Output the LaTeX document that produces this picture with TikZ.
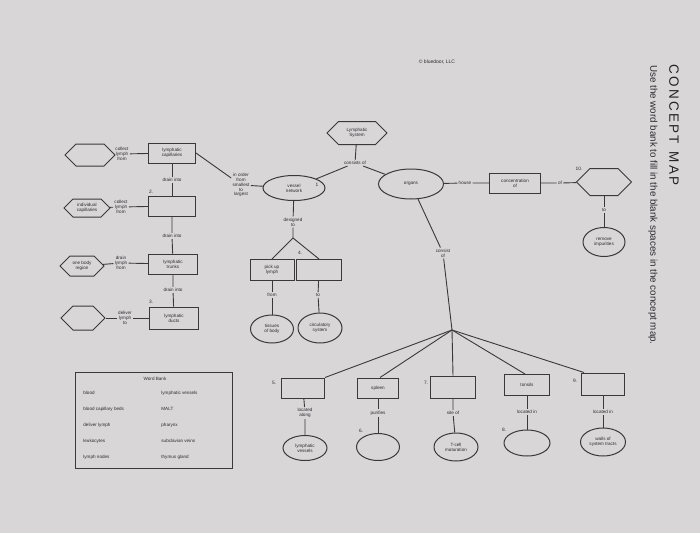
\documentclass[tikz,border=0pt]{standalone}
\usepackage{fontspec}
\setmainfont{Liberation Sans}
\usetikzlibrary{shapes.geometric,shapes.symbols}
\definecolor{paper}{RGB}{216,214,215}
\definecolor{ink}{RGB}{58,56,58}
\definecolor{txt}{RGB}{45,43,45}
\tikzset{
  tx/.style={font=\fontsize{4.6}{4.9}\selectfont, text=txt, align=center, inner sep=1.2pt},
  boxn/.style={tx, draw=ink, line width=1pt, minimum width=47pt, minimum height=20pt, inner sep=0pt},
  oval/.style={tx, ellipse, draw=ink, line width=1pt, minimum width=44pt, minimum height=27pt, inner sep=0pt},
  hexa/.style={tx, signal, signal to=west and east, draw=ink, line width=1pt, minimum width=48pt, minimum height=22pt, inner sep=0pt},
  lbl/.style={tx},
  num/.style={tx, font=\fontsize{4.8}{5}\selectfont},
  conn/.style={draw=ink, line width=0.9pt}
}
\begin{document}
\begin{tikzpicture}[x=1pt,y=-1pt]
\fill[paper] (0,0) rectangle (700,533);
\useasboundingbox (0,0) rectangle (700,533);

% header
\node[tx, font=\fontsize{5}{6}\selectfont] (copy) at (437,62) {\textcopyright\ bluedoor, LLC};
\node[text=txt!80!black, font=\fontsize{13.5}{14}\selectfont, rotate=-90, inner sep=0] (title) at (674,125) {C\,O\,N\,C\,E\,P\,T\ \ M\,A\,P};
\node[text=txt, font=\fontsize{9.8}{10}\selectfont, rotate=-90, inner sep=0] (sub) at (653,205) {Use the word bank to fill in the blank spaces in the concept map.};

% left column
\node[hexa, minimum width=50pt] (h1) at (90,155) {};
\node[lbl] (l1) at (122,154) {collect\\lymph\\from};
\node[boxn] (cap) at (172,153) {lymphatic\\capillaries};
\node[lbl] (d1) at (172,180) {drain into};
\node[num] (n2) at (151,192) {2.};
\node[boxn] (b2) at (172,206) {};
\node[hexa, minimum width=46pt, minimum height=18pt] (h2) at (87,208) {individual\\capillaries};
\node[lbl] (l2) at (121,207) {collect\\lymph\\from};
\node[lbl] (d2) at (172,236) {drain into};
\node[boxn, minimum width=49pt] (trunk) at (173,264) {lymphatic\\trunks};
\node[hexa, minimum width=44pt, minimum height=20pt] (h3) at (82,266) {one body\\region};
\node[lbl] (l3) at (121,263) {drain\\lymph\\from};
\node[lbl] (d3) at (173,290) {drain into};
\node[num] (n3) at (151,302) {3.};
\node[boxn, minimum width=49pt, minimum height=22pt] (duct) at (174,318) {lymphatic\\ducts};
\node[hexa, minimum width=44pt, minimum height=24pt] (h4) at (83,318) {};
\node[lbl] (l4) at (125,318) {deliver\\lymph\\to};

\draw[conn] (h1) -- (l1) -- (cap);
\draw[conn] (cap) -- (d1) -- (b2);
\draw[conn] (h2) -- (l2) -- (b2);
\draw[conn] (b2) -- (d2) -- (trunk);
\draw[conn] (h3) -- (l3) -- (trunk);
\draw[conn] (trunk) -- (d3) -- (duct);
\draw[conn] (h4) -- (l4) -- (duct);

% top centre
\node[hexa, minimum width=60pt, minimum height=23pt] (sys) at (357,133) {Lymphatic\\System};
\node[lbl] (cons) at (355,163) {consists of};
\node[oval, minimum width=62pt, minimum height=25pt] (vessel) at (294,188) {vessel\\network};
\node[num] (n1) at (317,185) {1};
\node[lbl] (order) at (241,185) {in order\\from\\smallest\\to\\largest};
\node[oval, minimum width=65pt, minimum height=30pt] (org) at (411,184) {organs};
\node[lbl] (house) at (465,183) {house};
\node[boxn, minimum width=51pt] (conc) at (515,183) {concentration\\of};
\node[lbl] (of) at (560,183) {of};
\node[hexa, minimum width=55pt, minimum height=27pt] (h10) at (604,182) {};
\node[num] (n10) at (579,169) {10.};
\node[lbl] (to10) at (604,210) {to};
\node[oval, minimum width=42pt, minimum height=29pt] (rem) at (604,242) {remove\\impurities};

\draw[conn] (sys) -- (cons);
\draw[conn] (cons) -- (vessel);
\draw[conn] (cons) -- (org);
\draw[conn] (cap.east) -- (order) -- (vessel);
\draw[conn] (org) -- (house) -- (conc) -- (of) -- (h10);
\draw[conn] (h10) -- (to10) -- (rem);

% vessel branch
\node[lbl] (des) at (293,222) {designed\\to};
\coordinate (apex) at (293,238);
\node[num] (n4) at (300,253) {4.};
\node[boxn, minimum width=44pt, minimum height=21pt] (pick) at (272,270) {pick up\\lymph};
\node[boxn, minimum width=45pt, minimum height=21pt] (b4) at (319,270) {};
\node[lbl] (from) at (272,295) {from};
\node[lbl] (to4) at (318,295) {to};
\node[oval, minimum width=43pt, minimum height=28pt] (tis) at (272,329) {tissues\\of body};
\node[oval, minimum width=44pt, minimum height=30pt] (circ) at (320,328) {circulatory\\system};

\draw[conn] (vessel) -- (des) -- (apex);
\draw[conn] (apex) -- (pick.north);
\draw[conn] (apex) -- (b4.north);
\draw[conn] (pick) -- (from) -- (tis);
\draw[conn] (b4) -- (to4) -- (circ);

% organs branch
\node[lbl] (cof) at (443,253) {consist\\of};
\coordinate (hub) at (452,330);
\draw[conn] (org) -- (cof) -- (hub);

\node[num] (n5) at (274,383) {5.};
\node[boxn, minimum width=43pt] (b5) at (303,388) {};
\node[lbl] (along) at (305,413) {located\\along};
\node[oval, minimum width=44pt, minimum height=25pt] (lv) at (305,448) {lymphatic\\vessels};

\node[boxn, minimum width=41pt] (spl) at (378,388) {spleen};
\node[lbl] (pur) at (378,413) {purifies};
\node[num] (n6) at (361,431) {6.};
\node[oval, minimum width=43pt, minimum height=27pt] (e6) at (378,447) {};

\node[num] (n7) at (426,383) {7.};
\node[boxn, minimum width=45pt, minimum height=22pt] (b7) at (453,387) {};
\node[lbl] (site) at (453,413) {site of};
\node[oval, minimum width=44pt, minimum height=28pt] (tc) at (456,447) {T-cell\\maturation};

\node[boxn, minimum width=45pt, minimum height=21pt] (ton) at (527,385) {tonsils};
\node[lbl] (lin8) at (527,412) {located in};
\node[num] (n8) at (504,430) {8.};
\node[oval, minimum width=46pt, minimum height=26pt] (e8) at (527,443) {};

\node[num] (n9) at (575,381) {9.};
\node[boxn, minimum width=43pt, minimum height=22pt] (b9) at (603,384) {};
\node[lbl] (lin9) at (603,412) {located in};
\node[oval, minimum width=45pt, minimum height=28pt] (walls) at (603,442) {walls of\\system tracts};

\draw[conn] (hub) -- (b5.north east);
\draw[conn] (hub) -- ([xshift=2pt]spl.north);
\draw[conn] (hub) -- (b7.north);
\draw[conn] (hub) -- ([xshift=-2pt]ton.north);
\draw[conn] (hub) -- ([xshift=3pt]b9.north west);

\draw[conn] (b5) -- (along) -- (lv);
\draw[conn] (spl) -- (pur) -- (e6);
\draw[conn] (b7) -- (site) -- (tc);
\draw[conn] (ton) -- (lin8) -- (e8);
\draw[conn] (b9) -- (lin9) -- (walls);

% word bank
\node[draw=ink, line width=1pt, minimum width=157pt, minimum height=96pt, inner sep=0] (bank) at (153.5,420) {};
\node[lbl] (wbt) at (155,379) {Word Bank};
\begin{scope}[every node/.style={tx, anchor=west}]
\node (w1) at (82,393) {blood};
\node (w2) at (82,409) {blood capillary beds};
\node (w3) at (82,425) {deliver lymph};
\node (w4) at (82,441) {leukocytes};
\node (w5) at (82,457) {lymph nodes};
\node (w6) at (160,393) {lymphatic vessels};
\node (w7) at (160,409) {MALT};
\node (w8) at (160,425) {pharynx};
\node (w9) at (160,441) {subclavian veins};
\node (w10) at (160,457) {thymus gland};
\end{scope}
\end{tikzpicture}
\end{document}
